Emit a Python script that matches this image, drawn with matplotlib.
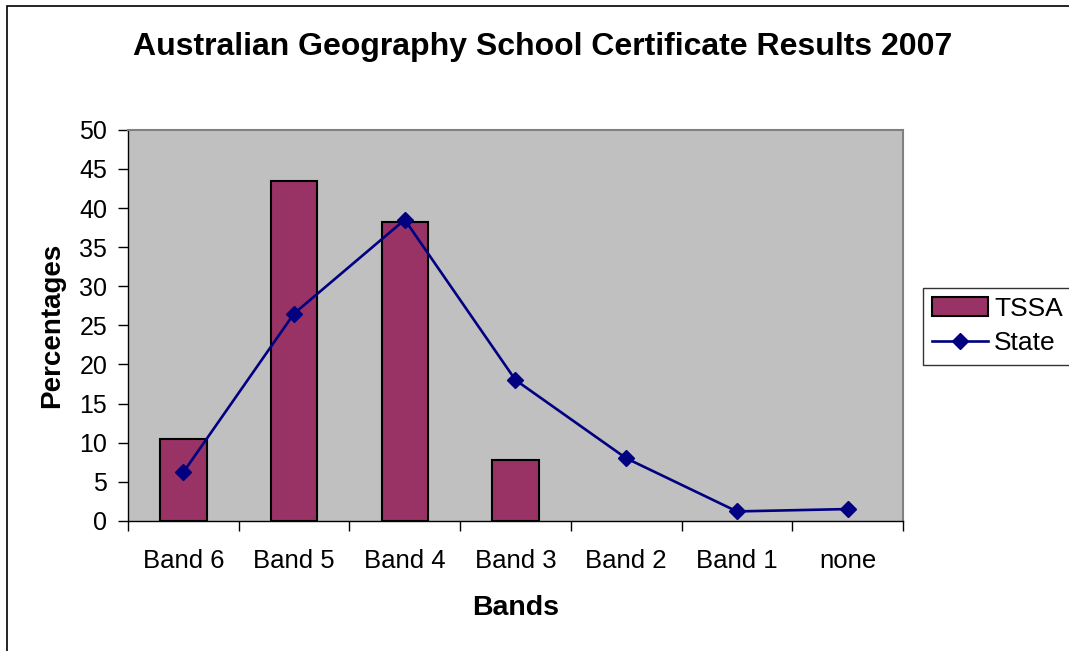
import matplotlib.pyplot as plt
import numpy as np
from matplotlib.patches import Rectangle

plt.rcParams['font.family'] = ['Liberation Sans', 'DejaVu Sans']

bands = ['Band 6', 'Band 5', 'Band 4', 'Band 3', 'Band 2', 'Band 1', 'none']
tssa = [10.5, 43.5, 38.2, 7.8, 0, 0, 0]
state = [6.2, 26.5, 38.5, 18.0, 8.0, 1.2, 1.5]

fig = plt.figure(figsize=(10.69, 6.51), dpi=100)
ax = fig.add_axes([0.1197, 0.2, 0.725, 0.6006])

# outer chart border
fig.patches.append(Rectangle((7 / 1069, -0.1), 1.2, 1.1 - 6 / 651,
                             transform=fig.transFigure, fill=False,
                             edgecolor='black', linewidth=1.2))

x = np.arange(len(bands))
heights = np.array(tssa, dtype=float)
heights[heights == 0] = np.nan  # Excel draws nothing for empty bars
ax.set_facecolor('#C0C0C0')
bars = ax.bar(x, heights, width=0.42, color='#993366', edgecolor='black',
              linewidth=1.5, label='TSSA', zorder=2)
line, = ax.plot(x, state, color='#000080', marker='D', markersize=8,
                linewidth=1.9, label='State', zorder=3)

ax.set_xlim(-0.5, len(bands) - 0.5)
ax.set_ylim(0, 50)
ax.set_yticks(range(0, 51, 5))
ax.set_xticks(x)
ax.set_xticklabels(bands)
ax.set_xticks(np.arange(-0.5, len(bands), 1), minor=True)
ax.tick_params(axis='x', which='major', length=0, pad=20, labelsize=18.5)
ax.tick_params(axis='x', which='minor', length=7, width=1, color='black')
ax.tick_params(axis='y', length=7, width=1, labelsize=18, pad=8)

for s in ['left', 'bottom']:
    ax.spines[s].set_color('black')
    ax.spines[s].set_linewidth(1)
for s in ['top', 'right']:
    ax.spines[s].set_color('#808080')
    ax.spines[s].set_linewidth(1.5)

ax.set_xlabel('Bands', fontsize=20.5, fontweight='bold', labelpad=16)
ax.set_ylabel('Percentages', fontsize=20, fontweight='bold', labelpad=10)
fig.text(0.508, 0.928, 'Australian Geography School Certificate Results 2007',
         ha='center', va='center', fontsize=23, fontweight='bold')

leg = fig.legend([bars, line], ['TSSA', 'State'], loc='center left',
                 bbox_to_anchor=(923 / 1069, 0.499),
                 fontsize=19, frameon=True, fancybox=False,
                 edgecolor='black', handlelength=2.1, borderpad=0.35,
                 handletextpad=0.25, labelspacing=0.4, borderaxespad=0)
leg.get_frame().set_linewidth(1)

fig.savefig('out.png', dpi=100)
